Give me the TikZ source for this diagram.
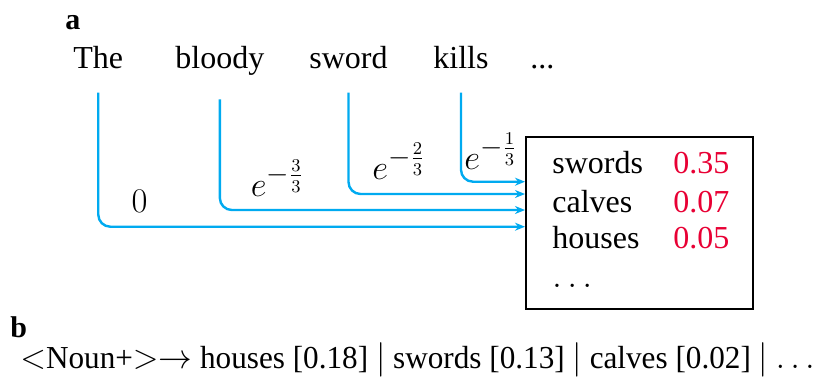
\documentclass[tikz,border=0pt]{standalone}
\usepackage{fontspec}
\setmainfont{Liberation Serif}
\usetikzlibrary{arrows.meta}

\definecolor{skyblue}{RGB}{0,170,240}
\definecolor{probred}{RGB}{232,0,52}

\begin{document}
\begin{tikzpicture}[x=0.5pt,y=-0.5pt]

  % Definitions
  \tikzstyle{word} = [anchor=base west, inner sep=0pt, font=\fontsize{16}{18}\selectfont]
  \tikzstyle{panel} = [anchor=base west, inner sep=0pt, font=\fontsize{15}{18}\selectfont\bfseries]
  \tikzstyle{weight} = [inner sep=0pt, font=\fontsize{19}{22}\selectfont]
  \tikzstyle{prob} = [word, text=probred]
  \tikzstyle{flow} = [draw=skyblue, line width=1.2pt, rounded corners=6pt, shorten <=12pt, -{Stealth[length=5pt,width=4pt]}]

  \useasboundingbox (0,0) rectangle (815,377);

  % panel a: context words
  \node (la) [panel] at (65,29) {a};
  \node (The) [word] at (73,68) {The};
  \node (bloody) [word] at (175,68) {bloody};
  \node (sword) [word] at (309,68) {sword};
  \node (kills) [word] at (433,68) {kills};
  \node (more) [word] at (530,68) {...};

  % candidate box
  \node (box) [draw, line width=1pt, minimum width=113.5pt, minimum height=86pt, inner sep=0pt] at (639.5,223) {};
  \node (swords) [word] at (552,173) {swords};
  \node (calves) [word] at (552,212) {calves};
  \node (houses) [word] at (552,248) {houses};
  \node (rest) [word] at (552,287) {$\ldots$};
  \node (p1) [prob] at (673,173) {0.35};
  \node (p2) [prob] at (673,212) {0.07};
  \node (p3) [prob] at (673,248) {0.05};

  \coordinate (inKills) at (525,181.7);
  \coordinate (inSword) at (525,194);
  \coordinate (inBloody) at (525,210);
  \coordinate (inThe) at (525,226.7);

  \draw [flow] (kills.south) |- (inKills);
  \draw [flow] (sword.south) |- (inSword);
  \draw [flow] (bloody.south) |- (inBloody);
  \draw [flow] (The.south) |- (inThe);

  \node (w0) [weight, font=\fontsize{17}{20}\selectfont] at (139.5,201.5) {$0$};
  \node (w3) [weight] at (277.5,178) {$e^{-\frac{3}{3}}$};
  \node (w2) [weight] at (399,161) {$e^{-\frac{2}{3}}$};
  \node (w1) [weight] at (491,151) {$e^{-\frac{1}{3}}$};

  % panel b: rule
  \node (lb) [panel] at (10,337) {b};
  \node (rule) [word] at (20,368) {\scalebox{0.975}[1]{$<$Noun+$>$$\rightarrow$ houses [0.18] $|$ swords [0.13] $|$ calves [0.02] $|$ $\ldots$}};

\end{tikzpicture}
\end{document}
